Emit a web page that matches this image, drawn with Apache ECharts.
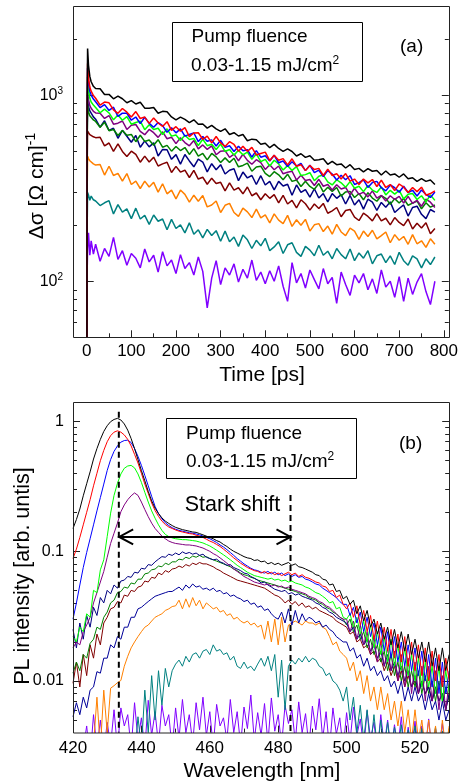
<!DOCTYPE html>
<html><head><meta charset="utf-8">
<script src="https://cdn.jsdelivr.net/npm/echarts@6/dist/echarts.min.js"></script>
<style>html,body{margin:0;padding:0;background:#fff}#c{width:461px;height:784px}</style>
</head><body><div id="c"></div>
<script>
const FONT = '"Liberation Sans", Arial, Helvetica, sans-serif';

// ---------- Panel (a): photoconductivity vs time ----------
const TIME = [0,1,2,4,7,10,15,20,
 30,40,50,60,70,80,90,100,
 110,120,130,140,150,160,170,180,190,200,
 210,220,230,240,250,260,270,280,290,300,
 310,320,330,340,350,360,370,380,390,400,
 410,420,430,440,450,460,470,480,490,500,
 510,520,530,540,550,560,570,580,590,600,
 610,620,630,640,650,660,670,680,690,700,
 710,720,730,740,750,760,770,780];

const A_BLACK = [1,900,1780,1450,1260,1180,1115,1085,
 1082,1007,1009,955,988,956,910,934,
 896,915,851,851,858,799,818,813,764,737,
 762,740,712,737,697,700,665,688,659,638,
 659,614,628,603,614,569,580,576,544,552,
 522,544,517,499,514,498,471,484,463,472,
 447,450,455,425,441,423,427,406,423,399,
 404,387,403,390,394,372,391,372,377,362,
 377,355,360,344,356,344,350,331];
const A_RED = [1,750,1480,1240,1105,1050,995,962,
 884,918,909,834,798,847,810,762,
 816,749,762,705,754,708,678,720,646,677,
 640,669,599,626,628,579,602,554,599,554,
 530,562,543,500,531,499,524,477,486,494,
 445,475,447,456,422,455,415,423,393,419,
 398,404,370,400,370,378,354,379,345,354,
 331,354,338,352,323,349,319,331,307,333,
 320,300,319,303,320,290,296,306];
const A_BLUE = [1,700,1400,1180,1050,1000,952,921,
 857,889,827,861,768,800,799,733,
 763,703,760,705,672,712,686,631,668,627,
 659,602,615,626,563,600,565,575,533,572,
 524,534,498,531,502,509,465,503,464,472,
 443,475,433,443,414,439,416,430,393,420,
 383,395,365,393,377,350,371,351,369,331,
 339,351,319,339,344,318,306,329,318,301,
 324,300,308,287,309,293,282,302];
const A_LIME = [1,650,1250,1075,962,918,884,858,
 804,841,802,737,781,733,767,698,
 713,725,652,694,653,664,614,659,602,611,
 570,609,577,585,535,579,535,545,510,546,
 498,510,476,505,478,494,452,483,439,452,
 416,447,427,396,418,394,413,370,374,383,
 347,367,372,342,329,351,338,320,343,316,
 324,303,327,309,300,321,291,308,294,308,
 277,293,296,275,288,267,291,272];
const A_PURPLE = [1,600,1050,945,878,850,818,802,
 800,749,777,698,707,726,654,689,
 695,639,613,654,628,593,635,583,594,549,
 590,556,534,570,514,540,511,534,478,500,
 503,463,482,444,481,446,425,450,434,399,
 423,397,416,378,385,390,350,371,348,352,
 327,353,324,331,309,330,313,319,291,316,
 293,301,284,306,280,289,270,288,275,286,
 263,286,262,272,253,276,266,249];
const A_DGREEN = [1,500,880,812,774,760,736,722,
 672,714,644,654,607,646,609,615,
 562,609,564,574,538,576,525,537,500,530,
 504,523,480,516,470,486,449,486,466,435,
 460,435,458,412,419,431,390,411,415,380,
 365,388,373,351,376,344,350,323,345,323,
 312,335,302,320,304,319,287,302,304,282,
 296,274,299,280,269,288,279,259,278,263,
 278,256,263,270,245,264,250,257];
const A_NAVY = [1,550,950,868,822,800,764,742,
 672,728,646,664,586,647,601,558,
 607,525,568,527,554,471,511,509,452,479,
 426,480,443,412,453,437,387,428,397,423,
 377,395,402,347,386,359,370,331,369,329,
 344,310,344,325,332,290,329,300,311,283,
 314,280,296,267,296,279,292,260,289,257,
 274,244,276,266,240,265,250,267,234,246,
 257,224,249,253,229,217,243,235];
const A_MAROON = [1,400,640,626,614,610,597,591,
 594,534,553,499,547,498,468,500,
 480,436,470,437,464,416,427,436,384,414,
 386,395,361,394,354,362,332,358,335,340,
 306,338,309,318,295,321,288,298,274,295,
 279,292,264,289,260,272,248,274,261,241,
 260,246,262,232,239,249,222,240,243,221,
 212,232,223,211,231,211,218,201,220,207,
 199,216,191,205,193,206,180,192];
const A_ORANGE = [1,300,470,456,444,440,427,421,
 424,372,415,370,380,345,379,331,
 345,315,345,321,340,301,334,295,309,277,
 309,293,266,290,269,289,251,257,270,234,
 256,262,234,223,247,236,220,244,219,227,
 206,230,213,204,226,197,214,200,215,186,
 201,204,185,198,179,202,184,176,193,186,
 168,186,174,188,169,176,184,161,178,166,
 174,158,178,159,165,152,169,158];
const A_TEAL = [1,190,300,291,272,287,274,270,
 255,264,271,230,258,235,245,217,
 247,216,226,202,227,210,216,189,215,192,
 201,182,206,179,189,171,190,176,187,164,
 186,163,173,154,177,167,150,166,155,170,
 146,153,163,141,157,161,143,136,154,147,
 137,156,138,145,132,150,139,132,149,129,
 142,133,146,124,137,140,126,137,123,143,
 129,122,137,132,118,132,123,135];
const A_VIOLET = [1,110,150,182,138,165,140,158,
 128,150,136,172,131,146,122,141,
 133,118,149,127,138,112,144,121,130,110,
 139,117,126,108,135,113,72,104,129,96,
 118,108,124,99,116,104,130,101,112,97,
 114,100,121,94,78,126,98,110,92,115,
 102,91,117,97,105,76,112,96,84,108,
 98,110,90,103,86,115,93,100,82,106,
 78,104,85,99,110,88,75,100];

const A_Y_MAJOR = [100, 1000];
const A_Y_MINOR = [60,70,80,90,200,300,400,500,600,700,800,900,2000];

// ---------- Panel (b): PL spectra ----------
const WAVE = [420,421,422,423,424,425,426,427,428,429,
 430,431,432,433,434,435,436,437,438,439,
 440,441,442,443,444,445,446,447,448,449,
 450,451,452,453,454,455,456,457,458,459,
 460,461,462,463,464,465,466,467,468,469,
 470,471,472,473,474,475,476,477,478,479,
 480,481,482,483,484,485,486,487,488,489,
 490,491,492,493,494,495,496,497,498,499,
 500,501,502,503,504,505,506,507,508,509,
 510,511,512,513,514,515,516,517,518,519,
 520,521,522,523,524,525,526,527,528,529,530];

const B_BLACK = [.150,.176,.212,.268,.332,.410,.515,.620,.730,.840,
 .930,1.00,1.04,1.06,1.03,.960,.860,.740,.620,.510,
 .420,.350,.290,.245,.215,.196,.181,.171,.164,.158,
 .153,.150,.147,.145,.143,.141,.140,.137,.134,.131,
 .128,.125,.121,.118,.113,.109,.104,.100,.097,.094,
 .091,.089,.088,.085,.086,.083,.084,.080,.082,.079,
 .081,.078,.080,.082,.078,.080,.076,.075,.073,.071,
 .069,.066,.065,.061,.060,.055,.056,.049,.050,.043,
 .045,.039,.042,.033,.038,.029,.035,.026,.030,.023,
 .028,.021,.026,.019,.025,.018,.024,.017,.023,.016,
 .021,.015,.020,.014,.020,.013,.018,.012,.018,.012,.016];
const B_RED = [.088,.104,.128,.160,.200,.250,.320,.400,.500,.600,
 .700,.780,.830,.850,.830,.790,.730,.650,.560,.480,
 .400,.330,.280,.236,.206,.186,.171,.161,.154,.150,
 .146,.143,.141,.139,.137,.136,.133,.131,.128,.124,
 .120,.117,.113,.109,.104,.099,.094,.089,.085,.081,
 .078,.075,.073,.071,.070,.068,.070,.067,.069,.066,
 .068,.065,.067,.069,.066,.068,.064,.066,.063,.062,
 .060,.058,.057,.054,.053,.049,.050,.044,.046,.039,
 .036,.040,.031,.038,.027,.035,.024,.032,.021,.029,
 .019,.026,.017,.025,.015,.023,.014,.022,.013,.020,
 .012,.019,.011,.018,.010,.017,.010,.016,.009,.015,.010];
const B_BLUE = [.030,.040,.055,.075,.098,.125,.160,.205,.260,.330,
 .420,.510,.590,.650,.695,.715,.720,.690,.620,.540,
 .460,.385,.320,.265,.222,.195,.178,.166,.158,.152,
 .148,.145,.143,.141,.139,.138,.136,.134,.131,.128,
 .125,.121,.117,.112,.108,.103,.098,.093,.088,.084,
 .080,.077,.074,.072,.071,.069,.068,.070,.067,.069,
 .066,.068,.065,.067,.064,.066,.063,.064,.061,.060,
 .058,.056,.055,.052,.050,.048,.046,.044,.041,.039,
 .039,.032,.037,.028,.034,.024,.031,.022,.028,.019,
 .026,.017,.024,.015,.022,.014,.020,.013,.019,.012,
 .018,.011,.017,.010,.016,.009,.015,.008,.014,.008,.012];
const B_LIME = [.022,.020,.026,.024,.033,.031,.050,.048,.072,.086,
 .130,.197,.270,.335,.395,.437,.455,.460,.440,.395,
 .340,.285,.240,.205,.180,.160,.145,.135,.130,.127,
 .125,.124,.123,.123,.122,.121,.120,.118,.116,.113,
 .110,.106,.102,.098,.094,.090,.086,.082,.078,.075,
 .072,.069,.067,.065,.064,.063,.062,.061,.062,.060,
 .061,.059,.060,.058,.059,.057,.056,.055,.053,.052,
 .050,.048,.047,.045,.043,.040,.041,.036,.037,.031,
 .030,.033,.026,.031,.023,.029,.020,.027,.018,.024,
 .016,.022,.014,.021,.013,.019,.012,.018,.011,.016,
 .010,.015,.009,.014,.009,.013,.008,.013,.007,.012,.008];
const B_PURPLE = [.018,.020,.019,.024,.027,.031,.040,.048,.058,.070,
 .090,.115,.138,.165,.202,.228,.250,.268,.282,.270,
 .240,.210,.185,.165,.150,.140,.131,.125,.120,.117,
 .115,.114,.113,.112,.112,.111,.110,.108,.106,.103,
 .100,.096,.093,.089,.085,.081,.077,.073,.070,.067,
 .064,.062,.060,.058,.057,.056,.055,.056,.054,.055,
 .053,.054,.052,.053,.051,.050,.049,.048,.047,.045,
 .044,.043,.041,.040,.038,.037,.035,.033,.031,.030,
 .030,.024,.029,.021,.027,.019,.024,.016,.022,.014,
 .020,.013,.018,.012,.017,.010,.016,.009,.015,.008,
 .014,.008,.013,.007,.013,.007,.012,.006,.011,.006,.010];
const B_NAVY1 = [.025,.018,.028,.021,.032,.026,.037,.032,.044,.040,
 .050,.047,.055,.052,.059,.060,.064,.063,.069,.068,
 .074,.073,.079,.078,.083,.087,.091,.090,.095,.093,
 .097,.094,.099,.096,.098,.095,.097,.093,.095,.090,
 .088,.086,.087,.083,.081,.078,.079,.075,.073,.071,
 .068,.067,.064,.062,.060,.057,.058,.055,.053,.051,
 .050,.049,.050,.047,.048,.046,.047,.045,.044,.043,
 .042,.040,.039,.037,.036,.034,.033,.031,.030,.029,
 .028,.024,.026,.021,.023,.019,.021,.017,.019,.015,
 .017,.013,.016,.012,.014,.011,.013,.010,.012,.009,
 .011,.008,.010,.008,.009,.007,.009,.007,.008,.006,.008];
const B_DGREEN = [.0115,.014,.012,.016,.015,.0195,.021,.026,.025,.031,
 .034,.040,.042,.048,.049,.053,.052,.057,.056,.061,
 .061,.067,.068,.072,.073,.077,.076,.081,.079,.083,
 .083,.087,.086,.090,.088,.092,.090,.093,.090,.091,
 .088,.086,.084,.082,.080,.078,.076,.073,.071,.068,
 .066,.065,.063,.062,.060,.059,.058,.057,.056,.055,
 .054,.053,.052,.051,.050,.049,.048,.047,.046,.044,
 .043,.042,.040,.039,.037,.036,.034,.033,.031,.030,
 .027,.030,.024,.027,.021,.024,.018,.021,.016,.019,
 .014,.017,.012,.016,.011,.014,.010,.013,.009,.012,
 .009,.012,.008,.011,.008,.010,.007,.010,.007,.009,.007];
const B_MAROON = [.0096,.014,.009,.016,.011,.019,.015,.023,.019,.028,
 .031,.036,.037,.041,.040,.046,.045,.050,.049,.053,
 .054,.059,.058,.063,.062,.068,.066,.071,.069,.073,
 .074,.077,.075,.079,.077,.081,.079,.082,.080,.080,
 .078,.076,.073,.071,.068,.066,.064,.062,.060,.059,
 .058,.057,.056,.055,.054,.053,.052,.050,.048,.046,
 .045,.043,.040,.042,.039,.041,.038,.040,.037,.038,
 .036,.037,.035,.034,.033,.032,.031,.029,.028,.027,
 .026,.023,.024,.020,.021,.018,.019,.016,.017,.014,
 .015,.012,.014,.011,.013,.010,.012,.009,.011,.009,
 .010,.008,.010,.008,.009,.007,.009,.007,.008,.006,.008];
const B_NAVY2 = [.0053,.0068,.0055,.0075,.0062,.0085,.0090,.0118,.0115,.0150,
 .0150,.019,.018,.022,.021,.026,.026,.031,.031,.036,
 .037,.039,.041,.043,.045,.046,.047,.048,.049,.049,
 .051,.053,.050,.055,.052,.056,.053,.054,.051,.052,
 .050,.052,.049,.050,.047,.048,.045,.046,.044,.043,
 .041,.042,.039,.040,.037,.038,.035,.036,.033,.031,
 .030,.034,.028,.036,.027,.035,.028,.033,.029,.031,
 .030,.028,.029,.026,.027,.025,.024,.022,.021,.020,
 .020,.017,.018,.015,.016,.013,.015,.012,.013,.011,
 .012,.010,.011,.009,.010,.008,.010,.007,.009,.007,
 .009,.007,.008,.006,.008,.006,.007,.005,.007,.005,.006];
const B_ORANGE = [.002,.002,.002,.002,.002,.0025,.0032,.0075,.003,.0085,
 .004,.0088,.0092,.0097,.0101,.013,.0155,.018,.020,.022,
 .024,.026,.027,.029,.031,.032,.033,.035,.036,.0375,
 .038,.042,.036,.043,.037,.044,.038,.042,.036,.040,
 .038,.036,.037,.034,.035,.032,.033,.030,.031,.029,
 .028,.029,.027,.028,.026,.027,.021,.029,.020,.030,
 .019,.031,.020,.027,.028,.029,.028,.027,.029,.028,
 .028,.027,.028,.026,.025,.022,.019,.020,.017,.016,
 .015,.012,.014,.010,.012,.008,.011,.007,.009,.006,
 .009,.006,.008,.005,.007,.0045,.007,.004,.006,.0035,
 .006,.0035,.005,.003,.005,.003,.0045,.0025,.005,.003,.0045];
const B_TEAL = [.002,.002,.002,.002,.002,.002,.002,.002,.002,.002,
 .002,.002,.002,.002,.002,.002,.002,.002,.0025,.0053,
 .003,.0085,.004,.011,.005,.012,.0065,.0125,.009,.012,
 .0135,.0145,.013,.0155,.014,.016,.0165,.015,.017,.0175,
 .016,.019,.017,.0175,.016,.0165,.0145,.0155,.013,.0125,
 .014,.0125,.013,.012,.0135,.015,.013,.0155,.012,.016,
 .0075,.0145,.006,.013,.0145,.0135,.015,.014,.0155,.014,
 .015,.0145,.013,.0125,.011,.0115,.010,.0095,.0085,.007,
 .009,.005,.0075,.004,.0065,.0035,.006,.003,.0055,.003,
 .005,.003,.0048,.0028,.0044,.003,.0046,.0026,.0042,.003,
 .0045,.0028,.0043,.0025,.004,.003,.0044,.0026,.0041,.003,.0043];
const B_VIOLET = [.002,.002,.0025,.003,.0045,.0025,.0055,.003,.005,.0028,
 .0048,.0032,.006,.003,.0062,.0045,.0055,.003,.0068,.0035,
 .0052,.003,.0071,.0038,.0058,.0032,.0065,.0045,.0055,.003,
 .0062,.0036,.0072,.004,.0055,.0033,.0068,.0042,.0075,.0038,
 .0058,.0031,.0066,.0045,.0052,.0035,.0072,.004,.0058,.0032,
 .0063,.0043,.0078,.0035,.0057,.0038,.0067,.0033,.0074,.0041,
 .0055,.0032,.0065,.0047,.006,.0034,.0069,.004,.0056,.0031,
 .0064,.0042,.0073,.0036,.0058,.003,.0062,.0039,.0052,.003,
 .0057,.0034,.0063,.0038,.0051,.003,.0059,.0036,.0048,.0028,
 .0055,.0032,.005,.0029,.0046,.0031,.0053,.0027,.0044,.003,
 .0049,.0028,.0045,.003,.0051,.0028,.0043,.0031,.0047,.0027,.0042];

const B_Y_MAJOR = [0.01, 0.1, 1];
const B_Y_MINOR = [0.005,0.006,0.007,0.008,0.009,0.02,0.03,0.04,0.05,0.06,0.07,0.08,0.09,
 0.2,0.3,0.4,0.5,0.6,0.7,0.8,0.9];
const B_X_MAJOR = [420,440,460,480,500,520];
const B_X_MINOR = [430,450,470,490,510];

// annotations of panel (b), in data units
const DASH_LEFT = {x: 433.4, top: 1.19};
const DASH_RIGHT = {x: 483.6, top: 0.272};
const ARROW = {from: 433.5, to: 483.6, y: 0.129};

const A_SERIES = [
 ['#8000ff', A_VIOLET], ['#008080', A_TEAL], ['#ff8000', A_ORANGE], ['#800000', A_MAROON],
 ['#000080', A_NAVY], ['#008000', A_DGREEN], ['#800080', A_PURPLE], ['#00ff00', A_LIME],
 ['#0000ff', A_BLUE], ['#ff0000', A_RED], ['#000000', A_BLACK]
];
const B_SERIES = [
 ['#8000ff', B_VIOLET], ['#008080', B_TEAL], ['#ff8000', B_ORANGE], ['#000099', B_NAVY2],
 ['#800000', B_MAROON], ['#008000', B_DGREEN], ['#000080', B_NAVY1], ['#800080', B_PURPLE],
 ['#00ff00', B_LIME], ['#0000ff', B_BLUE], ['#ff0000', B_RED], ['#000000', B_BLACK]
];

const tickLine = {color: '#222', width: 1};
const labelBase = {color: '#000', fontFamily: FONT};

function yLogAxis(grid, min, max, pos, offset, ticks, len, labels, margin, fmt, rich) {
  return {
    gridIndex: grid, type: 'log', logBase: 10, min: min, max: max, position: pos, offset: offset,
    axisLine: {show: false}, splitLine: {show: false}, minorTick: {show: false},
    axisTick: {show: true, inside: true, length: len, lineStyle: tickLine, customValues: ticks},
    axisLabel: labels ? Object.assign({customValues: labels, fontSize: 16, margin: margin,
      formatter: fmt, rich: rich, lineHeight: 18}, labelBase) : {show: false}
  };
}

const supRich = {sup: {fontSize: 10, lineHeight: 10, verticalAlign: 'top', color: '#000', fontFamily: FONT}};

const yAxes = [
  yLogAxis(0, 50, 3000, 'left', 13.7, A_Y_MAJOR, 7, A_Y_MAJOR, 10,
    v => '10{sup|' + Math.round(Math.log10(v)) + '}', supRich),
  yLogAxis(0, 50, 3000, 'left', 13.7, A_Y_MINOR, 4, null),
  yLogAxis(0, 50, 3000, 'right', 5, A_Y_MAJOR, 7, null),
  yLogAxis(0, 50, 3000, 'right', 5, A_Y_MINOR, 4, null),
  yLogAxis(1, 0.004, 1.4, 'left', 0, B_Y_MAJOR, 7, B_Y_MAJOR, 9,
    v => (v >= 1 ? '1' : (v >= 0.1 ? '0.1' : '0.01')), undefined),
  yLogAxis(1, 0.004, 1.4, 'left', 0, B_Y_MINOR, 4, null),
  yLogAxis(1, 0.004, 1.4, 'right', 0, B_Y_MAJOR, 7, null),
  yLogAxis(1, 0.004, 1.4, 'right', 0, B_Y_MINOR, 4, null)
];

const xAxes = [
  {gridIndex: 0, type: 'value', min: 0, max: 800, interval: 100, position: 'bottom',
   axisLine: {show: false}, splitLine: {show: false}, minorSplitLine: {show: false},
   axisTick: {show: true, inside: true, length: 7, lineStyle: tickLine},
   minorTick: {show: true, splitNumber: 2, length: 4, lineStyle: tickLine},
   axisLabel: Object.assign({fontSize: 17, margin: 6}, labelBase)},
  {gridIndex: 1, type: 'value', min: 420, max: 530, position: 'bottom',
   axisLine: {show: false}, splitLine: {show: false},
   axisTick: {show: true, inside: true, length: 7, lineStyle: tickLine, customValues: B_X_MAJOR},
   axisLabel: Object.assign({fontSize: 17, margin: 7, customValues: B_X_MAJOR}, labelBase)},
  {gridIndex: 1, type: 'value', min: 420, max: 530, position: 'bottom',
   axisLine: {show: false}, splitLine: {show: false},
   axisTick: {show: true, inside: true, length: 4, lineStyle: tickLine, customValues: B_X_MINOR},
   axisLabel: {show: false}}
];

const series = [];
A_SERIES.forEach(([c, arr]) => series.push({
  type: 'line', xAxisIndex: 0, yAxisIndex: 0, showSymbol: false, symbol: 'none', clip: true,
  lineStyle: {color: c, width: 1.5}, itemStyle: {color: c}, silent: true,
  data: TIME.map((t, i) => [t, arr[i]])
}));
B_SERIES.forEach(([c, arr]) => series.push({
  type: 'line', xAxisIndex: 1, yAxisIndex: 4, showSymbol: false, symbol: 'none', clip: true,
  lineStyle: {color: c, width: 1}, itemStyle: {color: c}, silent: true,
  data: WAVE.map((w, i) => [w, arr[i]])
}));

const chart = echarts.init(document.getElementById('c'), null, {renderer: 'canvas', width: 461, height: 784});
chart.setOption({
  animation: false,
  backgroundColor: '#ffffff',
  grid: [
    {left: 86.7, top: 6.3, width: 357.3, height: 331, containLabel: false},
    {left: 73, top: 402.7, width: 376.2, height: 329.9, containLabel: false}
  ],
  xAxis: xAxes,
  yAxis: yAxes,
  series: series
});

function txt(x, y, text, size, extra) {
  return Object.assign({type: 'text', x: x, y: y, z: 100, silent: true,
    style: Object.assign({text: text, fill: '#000', fontSize: size, fontFamily: FONT,
      align: 'left', verticalAlign: 'middle'}, (extra && extra.style) || {})},
    extra && extra.rotation !== undefined ? {rotation: extra.rotation} : {});
}
const boxSup = {sup: {fontSize: 12, lineHeight: 12, verticalAlign: 'top', fill: '#000', fontFamily: FONT}};

const px = (x, y) => chart.convertToPixel({xAxisIndex: 1, yAxisIndex: 4}, [x, y]);
const dl0 = px(DASH_LEFT.x, DASH_LEFT.top), dl1 = px(DASH_LEFT.x, 0.004);
const dr0 = px(DASH_RIGHT.x, DASH_RIGHT.top), dr1 = px(DASH_RIGHT.x, 0.004);
const a0 = px(ARROW.from, ARROW.y), a1 = px(ARROW.to, ARROW.y);
const headL = 14, headH = 7.5;

const graphics = [
  {type: 'rect', z: 100, silent: true, shape: {x: 73.5, y: 6.5, width: 376, height: 331},
   style: {fill: 'none', stroke: '#222', lineWidth: 1}},
  {type: 'rect', z: 100, silent: true, shape: {x: 73.5, y: 402.5, width: 376, height: 330.5},
   style: {fill: 'none', stroke: '#222', lineWidth: 1}},
  {type: 'rect', z: 100, silent: true, shape: {x: 172.5, y: 22.5, width: 190, height: 59},
   style: {fill: '#fff', stroke: '#000', lineWidth: 1}},
  txt(191.5, 37, 'Pump fluence', 19),
  txt(191, 66, '0.03-1.15 mJ/cm{sup|2}', 19, {style: {rich: boxSup, lineHeight: 22}}),
  txt(400, 47, '(a)', 19),
  {type: 'rect', z: 100, silent: true, shape: {x: 166.5, y: 418.5, width: 190, height: 60},
   style: {fill: '#fff', stroke: '#000', lineWidth: 1}},
  txt(186, 434, 'Pump fluence', 19),
  txt(186, 462, '0.03-1.15 mJ/cm{sup|2}', 19, {style: {rich: boxSup, lineHeight: 22}}),
  txt(399, 443.5, '(b)', 19),
  txt(232.5, 505, 'Stark shift', 21.5, {style: {align: 'center'}}),
  txt(262, 375, 'Time [ps]', 21, {style: {align: 'center'}}),
  txt(262, 771.5, 'Wavelength [nm]', 21, {style: {align: 'center'}}),
  txt(37, 186, 'Δσ [Ω cm]{sup|-1}', 21, {rotation: Math.PI / 2, style: {align: 'center', lineHeight: 26,
    rich: {sup: {fontSize: 14, lineHeight: 14, verticalAlign: 'top', fill: '#000', fontFamily: FONT}}}}),
  txt(23, 576, 'PL intensity [arb. untis]', 21.5, {rotation: Math.PI / 2, style: {align: 'center'}}),
  {type: 'line', z: 90, silent: true, shape: {x1: dl0[0], y1: dl0[1], x2: dl1[0], y2: dl1[1]},
   style: {stroke: '#000', lineWidth: 2, lineDash: [6, 4]}},
  {type: 'line', z: 90, silent: true, shape: {x1: dr0[0], y1: dr0[1], x2: dr1[0], y2: dr1[1]},
   style: {stroke: '#000', lineWidth: 2, lineDash: [6, 4]}},
  {type: 'line', z: 91, silent: true, shape: {x1: a0[0], y1: a0[1], x2: a1[0], y2: a1[1]},
   style: {stroke: '#000', lineWidth: 2}},
  {type: 'polyline', z: 91, silent: true,
   shape: {points: [[a0[0] + headL, a0[1] - headH], [a0[0], a0[1]], [a0[0] + headL, a0[1] + headH]]},
   style: {stroke: '#000', lineWidth: 2, fill: 'none'}},
  {type: 'polyline', z: 91, silent: true,
   shape: {points: [[a1[0] - headL, a1[1] - headH], [a1[0], a1[1]], [a1[0] - headL, a1[1] + headH]]},
   style: {stroke: '#000', lineWidth: 2, fill: 'none'}}
];
chart.setOption({graphic: {elements: graphics}});
</script>
</body></html>
